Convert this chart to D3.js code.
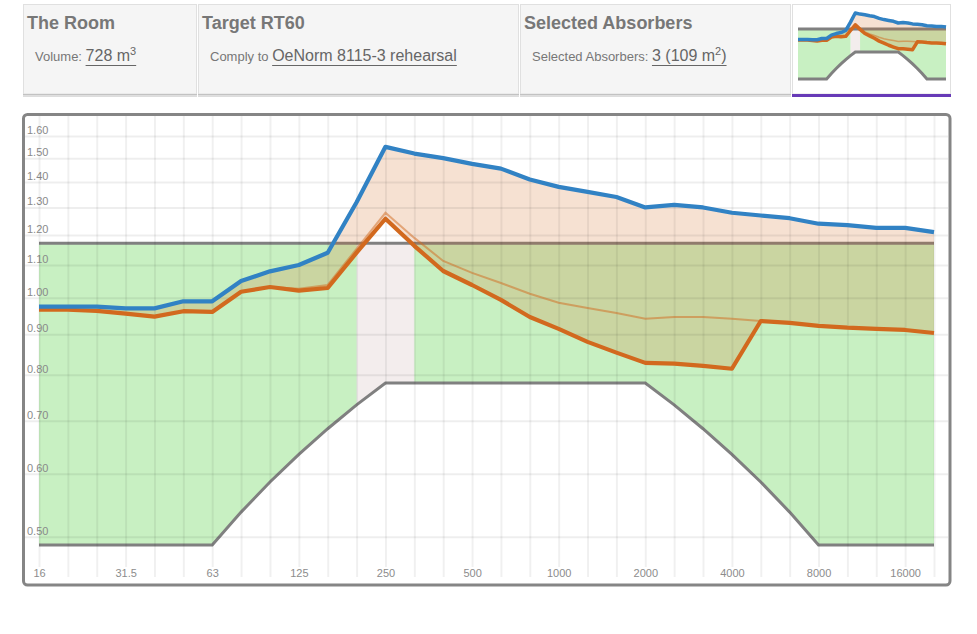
<!DOCTYPE html>
<html>
<head>
<meta charset="utf-8">
<script src="https://cdn.jsdelivr.net/npm/d3@7"></script>
<style>
  body { margin: 0; background: #fff; }
  svg { font-family: "Liberation Sans", Arial, sans-serif; display: block; }
</style>
</head>
<body>
<svg id="chart" width="977" height="634"></svg>
<script>
// third-octave bands (Hz)
const bands = ["16","20","25","31.5","40","50","63","80","100","125","160","200","250","315","400","500",
  "630","800","1000","1250","1600","2000","2500","3150","4000","5000","6300","8000","10000","12500","16000","20000"];

// RT60 in seconds
const rtBefore = [0.975,0.975,0.975,0.97,0.97,0.99,0.99,1.05,1.08,1.10,1.14,1.32,1.55,1.52,1.50,1.475,
  1.455,1.41,1.38,1.36,1.34,1.30,1.31,1.30,1.28,1.27,1.26,1.24,1.235,1.225,1.225,1.21];
const rtAfter = [0.966,0.966,0.963,0.955,0.947,0.962,0.960,1.018,1.032,1.021,1.029,1.14,1.258,1.163,1.081,1.038,
  0.994,0.946,0.914,0.880,0.853,0.828,0.826,0.821,0.814,0.935,0.930,0.922,0.917,0.914,0.911,0.903];
const rtAfterAlt = [0.966,0.966,0.963,0.955,0.947,0.962,0.960,1.018,1.032,1.027,1.038,1.153,1.28,1.19,1.113,1.075,
  1.044,1.012,0.986,0.971,0.957,0.941,0.946,0.946,0.941,0.935,0.930,0.922,0.917,0.914,0.911,0.903];

// tolerance band (OeNorm 8115-3 rehearsal)
const tolUpper = [1.172,1.172,1.172,1.172,1.172,1.172,1.172,1.172,1.172,1.172,1.172,1.172,1.172,1.172,1.172,1.172,
  1.172,1.172,1.172,1.172,1.172,1.172,1.172,1.172,1.172,1.172,1.172,1.172,1.172,1.172,1.172,1.172];
const tolLower = [0.488,0.488,0.488,0.488,0.488,0.488,0.488,0.537,0.586,0.635,0.684,0.733,0.781,0.781,0.781,0.781,
  0.781,0.781,0.781,0.781,0.781,0.781,0.733,0.684,0.635,0.586,0.537,0.488,0.488,0.488,0.488,0.488];

const yTicks = [0.5,0.6,0.7,0.8,0.9,1.0,1.1,1.2,1.3,1.4,1.5,1.6];
const xTickLabels = ["16","31.5","63","125","250","500","1000","2000","4000","8000","16000"];

const panelTitles = ["The Room", "Target RT60", "Selected Absorbers"];
const panelLabels = ["Volume:", "Comply to", "Selected Absorbers:"];
const panelValues = [["728 m", "3", ""], ["OeNorm 8115-3 rehearsal", "", ""], ["3 (109 m", "2", ")"]];

const rows = bands.map((b, i) => ({
  band: b, before: rtBefore[i], after: rtAfter[i], alt: rtAfterAlt[i], hi: tolUpper[i], lo: tolLower[i]
}));
rows.forEach(d => { d.ok = d.after >= d.lo && d.after <= d.hi; });
rows.forEach((d, i) => {
  d.near = !d.ok || (i > 0 && !rows[i - 1].ok) || (i < rows.length - 1 && !rows[i + 1].ok);
});

const svg = d3.select("#chart");

// ---- header panels ----
const panelX = [[23, 197], [198, 519], [520, 791]];
panelX.forEach(([x0, x1], i) => {
  const g = svg.append("g");
  g.append("rect").attr("x", x0 + 0.5).attr("y", 4.5).attr("width", x1 - x0 - 1).attr("height", 89.5)
    .attr("fill", "#f5f5f5").attr("stroke", "#e0e0e0");
  g.append("rect").attr("x", x0).attr("y", 94).attr("width", x1 - x0).attr("height", 1.5).attr("fill", "#c2c2c2");
  g.append("rect").attr("x", x0).attr("y", 95.5).attr("width", x1 - x0).attr("height", 1.5).attr("fill", "#dddddd");
  g.append("text").attr("x", x0 + 4).attr("y", 29).attr("font-size", 18).attr("font-weight", "bold")
    .attr("fill", "#777").text(panelTitles[i]);
  const lab = g.append("text").attr("x", x0 + 12).attr("y", 61).attr("font-size", 13)
    .attr("fill", "#777").text(panelLabels[i]);
  const vx = x0 + 12 + lab.node().getComputedTextLength() + 3.6;
  const [main, sup, tail] = panelValues[i];
  const val = g.append("text").attr("x", vx).attr("y", 61).attr("font-size", 16).attr("fill", "#666");
  val.append("tspan").text(main);
  if (sup) val.append("tspan").attr("font-size", 11).attr("dy", -6).text(sup);
  if (tail) val.append("tspan").attr("dy", 6).text(tail);
  const bb = val.node().getBBox();
  g.append("line").attr("x1", vx).attr("x2", vx + bb.width).attr("y1", 65.5).attr("y2", 65.5)
    .attr("stroke", "#666").attr("stroke-width", 1);
});

// ---- plot layers (used by main chart and thumbnail) ----
function drawFills(g, x, y, w) {
  const pinkArea = d3.area().defined(d => d.near)
    .x(d => x(d.band)).y0(d => y(d.lo)).y1(d => y(d.hi));
  const greenArea = d3.area().defined(d => d.ok)
    .x(d => x(d.band)).y0(d => y(d.lo)).y1(d => y(d.hi));
  g.append("path").datum(rows).attr("d", pinkArea).attr("fill", "#f3eded");
  g.append("path").datum(rows).attr("d", greenArea).attr("fill", "#c8f0c2");
  ["hi", "lo"].forEach(k => {
    g.append("path").datum(rows)
      .attr("d", d3.line().x(d => x(d.band)).y(d => y(d[k])))
      .attr("fill", "none").attr("stroke", "#808080").attr("stroke-width", w.tol);
  });
  const gain = d3.area().x(d => x(d.band)).y0(d => y(d.after)).y1(d => y(d.before));
  g.append("path").datum(rows).attr("d", gain).attr("fill", "#d2691e").attr("fill-opacity", 0.2);
}

function drawLines(g, x, y, w) {
  const line = k => d3.line().x(d => x(d.band)).y(d => y(d[k]));
  g.append("path").datum(rows).attr("d", line("alt")).attr("fill", "none")
    .attr("stroke", "#d2691e").attr("stroke-opacity", 0.5).attr("stroke-width", w.thin);
  g.append("path").datum(rows).attr("d", line("after")).attr("fill", "none")
    .attr("stroke", "#d2691e").attr("stroke-width", w.main).attr("stroke-linejoin", "round");
  g.append("path").datum(rows).attr("d", line("before")).attr("fill", "none")
    .attr("stroke", "#3182c4").attr("stroke-width", w.main).attr("stroke-linejoin", "round");
}

// ---- main chart ----
const x = d3.scalePoint().domain(bands).range([39, 934]);
const y = d3.scaleLog().domain([0.45, 1.7]).range([573, 115]);
const mainW = {tol: 3, thin: 2, main: 4.2};

svg.append("rect").attr("x", 23.5).attr("y", 114.5).attr("width", 926.5).attr("height", 470.5)
  .attr("fill", "#fff");

const plot = svg.append("g");
drawFills(plot, x, y, mainW);

const gy = plot.append("g").attr("transform", "translate(25,0)")
  .call(d3.axisLeft(y).tickValues(yTicks).tickSize(-923).tickFormat(d3.format(".2f")));
gy.select(".domain").remove();
gy.selectAll("line").attr("stroke", "#000").attr("stroke-opacity", 0.065).attr("stroke-width", 2);
gy.selectAll("text").attr("x", 2).attr("dy", -2.5).attr("text-anchor", "start")
  .attr("font-size", 11).attr("fill", "#8a8a8a");

const gx = plot.append("g").attr("transform", "translate(0,577)")
  .call(d3.axisBottom(x).tickSize(-461));
gx.select(".domain").remove();
gx.selectAll(".tick line").attr("stroke", "#000").attr("stroke-opacity", 0.06).attr("stroke-width", 2)
  .attr("y1", d => xTickLabels.includes(d) ? -10 : 0);
gx.selectAll(".tick text").filter(d => !xTickLabels.includes(d)).remove();
gx.selectAll(".tick text").attr("y", 0).attr("dy", 0).attr("font-size", 11).attr("fill", "#8c8c8c");

drawLines(plot, x, y, mainW);

svg.append("rect").attr("x", 23.5).attr("y", 114.5).attr("width", 926.5).attr("height", 470.5)
  .attr("rx", 4).attr("fill", "none").attr("stroke", "#858585").attr("stroke-width", 3);

// ---- thumbnail ----
const thumb = svg.append("g");
thumb.append("rect").attr("x", 792.5).attr("y", 4.5).attr("width", 158).attr("height", 89.5)
  .attr("fill", "#fff").attr("stroke", "#e0e0e0");
const tx = d3.scalePoint().domain(bands).range([798, 946]);
const ty = d3.scaleLog().domain([0.45, 1.7]).range([83.5, 7.7]);
const thumbW = {tol: 3, thin: 1.5, main: 3.5};
drawFills(thumb, tx, ty, thumbW);
drawLines(thumb, tx, ty, thumbW);
thumb.append("rect").attr("x", 792).attr("y", 94).attr("width", 159).attr("height", 3).attr("fill", "#673ab7");
</script>
</body>
</html>
